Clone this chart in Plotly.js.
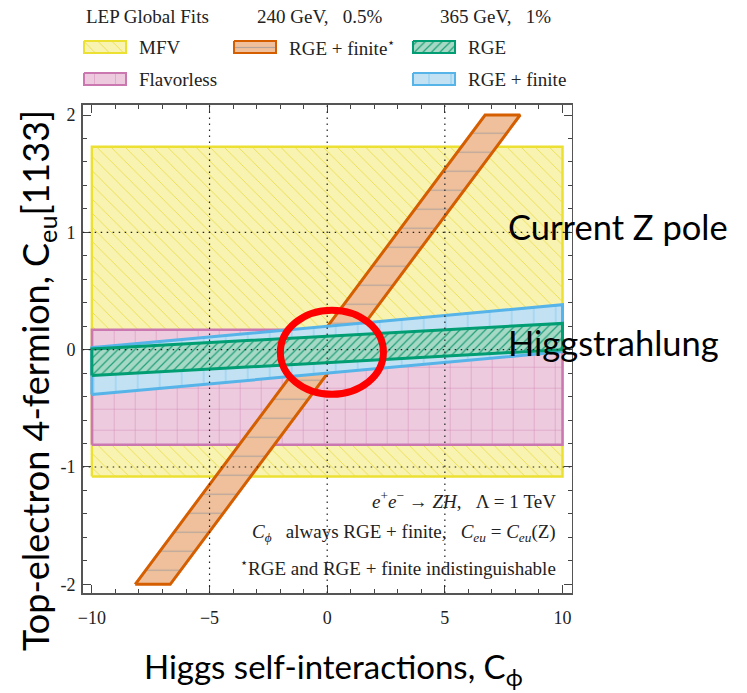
<!DOCTYPE html>
<html>
<head>
<meta charset="utf-8">
<script src="https://cdn.plot.ly/plotly-3.0.1.min.js"></script>
<style>
  html, body { margin: 0; padding: 0; background: #ffffff; }
  #chart { width: 747px; height: 693px; }
</style>
</head>
<body>
<div id="chart"></div>
<script>
// ---- Allowed regions in the (C_phi, C_eu[1133]) plane ----
// C_phi end points used for the straight 365 GeV bands and the LEP boxes
const cphiSpan = [-10, 10];

// LEP global fits (horizontal boxes): [lower, upper] in C_eu
const mfvBounds = [-1.08, 1.73];
const flavorlessBounds = [-0.81, 0.17];

// 240 GeV, 0.5%: RGE + finite band, left/right C_phi edges at C_eu = -2 and +2
const ceu240Edges = [-2, 2];
const cphi240Left = [-8.16, 6.71];
const cphi240Right = [-6.67, 8.20];

// 365 GeV, 1%: C_eu lower / upper limits at C_phi = -10 and +10
const rge365Lower = [-0.221, 0.0];
const rge365Upper = [0.006, 0.224];
const rgeFinite365Lower = [-0.383, -0.017];
const rgeFinite365Upper = [0.017, 0.383];

// Axis tick labels
const xTickVals = [-10, -5, 0, 5, 10];
const xTickText = ['\u221210', '\u22125', '0', '5', '10'];
const yTickVals = [-2, -1, 0, 1, 2];
const yTickText = ['-2', '-1', '0', '1', '2'];

// ---- Styles ----
const styles = {
  mfv:        { line: '#ece133', width: 2.5, pat: { shape: '\\', size: 10, solidity: 0.08, fgcolor: '#e9da45', bgcolor: '#f8f3b0' } },
  flavorless: { line: '#cc78b0', width: 2.5, pat: { shape: '+',  size: 21, solidity: 0.05, fgcolor: '#d590bb', bgcolor: '#edcadd' } },
  rgeFin240:  { line: '#d55e00', width: 3,   pat: { shape: '-',  size: 19, solidity: 0.06, fgcolor: '#b4a49c', bgcolor: '#efc09b' } },
  rgeFin365:  { line: '#56b4e9', width: 3,   pat: { shape: '|',  size: 22, solidity: 0.05, fgcolor: '#93cff0', bgcolor: '#c2e2f4' } },
  rge365:     { line: '#029e73', width: 3,   pat: { shape: '/',  size: 6,  solidity: 0.2,  fgcolor: '#1f9f78', bgcolor: '#a6d9c5' } }
};

function patternFill(s) {
  return Object.assign({ fillmode: 'replace' }, s.pat);
}

function boxPath(xs, ys) {
  return { x: [xs[0], xs[1], xs[1], xs[0], xs[0]], y: [ys[0], ys[0], ys[1], ys[1], ys[0]] };
}
function bandPath(xs, lo, hi) {
  return { x: [xs[0], xs[1], xs[1], xs[0], xs[0]], y: [lo[0], lo[1], hi[1], hi[0], lo[0]] };
}
function slantPath(ys, left, right) {
  return { x: [left[0], right[0], right[1], left[1], left[0]], y: [ys[0], ys[0], ys[1], ys[1], ys[0]] };
}

function region(path, s, name, xa, ya) {
  return {
    type: 'scatter', mode: 'lines', name: name,
    x: path.x, y: path.y, xaxis: xa || 'x', yaxis: ya || 'y',
    fill: 'toself', fillcolor: s.pat.bgcolor, fillpattern: patternFill(s),
    line: { color: s.line, width: s.width },
    hoverinfo: 'skip', showlegend: false
  };
}

const traces = [
  region(boxPath(cphiSpan, mfvBounds), styles.mfv, 'MFV'),
  region(boxPath(cphiSpan, flavorlessBounds), styles.flavorless, 'Flavorless'),
  region(slantPath(ceu240Edges, cphi240Left, cphi240Right), styles.rgeFin240, 'RGE + finite (240 GeV)'),
  region(bandPath(cphiSpan, rgeFinite365Lower, rgeFinite365Upper), styles.rgeFin365, 'RGE + finite (365 GeV)'),
  region(bandPath(cphiSpan, rge365Lower, rge365Upper), styles.rge365, 'RGE (365 GeV)')
];

// ---- Key above the plot (page-pixel overlay axes x2/y2) ----
const serif = 'Liberation Serif, Times New Roman, serif';
const sans = 'Lato, Open Sans, sans-serif';
const keyCols = [84, 234, 413];
const keyHeadRow = 16;
const keyRows = [47, 79];
const swW = 42, swH = 12, labelGap = 11;
const keyHeads = ['LEP Global Fits', '240 GeV,\u2002 0.5%', '365 GeV,\u2002 1%'];
const keyHeadX = [84, 255, 438];
const keyItems = [
  { col: 0, row: 0, s: styles.mfv, text: 'MFV' },
  { col: 0, row: 1, s: styles.flavorless, text: 'Flavorless' },
  { col: 1, row: 0, s: styles.rgeFin240, text: 'RGE + finite<sup>\u22c6</sup>' },
  { col: 2, row: 0, s: styles.rge365, text: 'RGE' },
  { col: 2, row: 1, s: styles.rgeFin365, text: 'RGE + finite' }
];

const annotations = [];
keyHeads.forEach((t, i) => {
  annotations.push({ xref: 'x2', yref: 'y2', x: keyHeadX[i], y: keyHeadRow, text: t,
    xanchor: 'left', yanchor: 'middle', showarrow: false,
    font: { family: serif, size: 19, color: '#222' } });
});
keyItems.forEach(it => {
  const x0 = keyCols[it.col], yc = keyRows[it.row];
  const sw = Object.assign({}, it.s, { width: 2 });
  traces.push(region(boxPath([x0, x0 + swW], [yc - swH / 2, yc + swH / 2]), sw, it.text, 'x2', 'y2'));
  annotations.push({ xref: 'x2', yref: 'y2', x: x0 + swW + labelGap, y: yc, text: it.text,
    xanchor: 'left', yanchor: 'middle', showarrow: false,
    font: { family: serif, size: 19, color: '#222' } });
});

// ---- Notes inside the plot ----
const notes = [
  '<i>e</i><sup>+</sup><i>e</i><sup>\u2212</sup> \u2192 <i>ZH</i>,\u2002 \u039b = 1 TeV',
  '<i>C<sub>\u03d5</sub></i>\u2002 always RGE + finite,\u2002 <i>C<sub>eu</sub></i> = <i>C<sub>eu</sub></i>(Z)',
  '<sup>\u22c6</sup>RGE and RGE + finite indistinguishable'
];
const noteY = [500, 533, 567];
notes.forEach((t, i) => {
  annotations.push({ xref: 'x2', yref: 'y2', x: 558, y: noteY[i], text: t,
    xanchor: 'right', yanchor: 'middle', showarrow: false,
    font: { family: serif, size: 19, color: '#222' } });
});

// Region labels and axis titles
annotations.push(
  { xref: 'x2', yref: 'y2', x: 506, y: 226, text: 'Current Z pole', xanchor: 'left', yanchor: 'middle',
    showarrow: false, font: { family: sans, size: 34.5, color: '#000' } },
  { xref: 'x2', yref: 'y2', x: 506, y: 342, text: 'Higgstrahlung', xanchor: 'left', yanchor: 'middle',
    showarrow: false, font: { family: sans, size: 34.5, color: '#000' } },
  { xref: 'x2', yref: 'y2', x: 333, y: 668, text: 'Higgs self-interactions, C<sub>\u03d5</sub>',
    xanchor: 'center', yanchor: 'middle', showarrow: false, font: { family: sans, size: 33, color: '#000' } },
  { xref: 'x2', yref: 'y2', x: 37, y: 381, text: 'Top-electron 4-fermion, C<sub>eu</sub>[1133]', textangle: -90,
    xanchor: 'center', yanchor: 'middle', showarrow: false, font: { family: sans, size: 36, color: '#000' } }
);

// ---- Dotted reference lines and highlight ellipse ----
const shapes = [];
const gridDash = '1.5px,4.5px';
[-5, 0, 5].forEach(v => shapes.push({ type: 'line', layer: 'above', xref: 'x', yref: 'y domain',
  x0: v, x1: v, y0: 0, y1: 1, line: { color: '#222', width: 1.2, dash: gridDash } }));
[-1, 0, 1].forEach(v => shapes.push({ type: 'line', layer: 'above', xref: 'x domain', yref: 'y',
  x0: 0, x1: 1, y0: v, y1: v, line: { color: '#222', width: 1.2, dash: gridDash } }));
shapes.push({ type: 'circle', layer: 'above', xref: 'x', yref: 'y',
  x0: -1.99, x1: 2.39, y0: -0.381, y1: 0.336, line: { color: '#ff0000', width: 7 } });

const W = 747, H = 693;
const plotL = 82.7, plotR = 571.7, plotT = 104.7, plotB = 593;

const axisCommon = {
  showgrid: false, zeroline: false, showline: true, linecolor: '#555', linewidth: 1.5,
  mirror: 'ticks', ticks: 'inside', ticklen: 8, tickwidth: 1, tickcolor: '#444',
  tickmode: 'array', fixedrange: true,
  tickfont: { family: serif, size: 18, color: '#222' }
};

const layout = {
  width: W, height: H,
  margin: { l: 0, r: 0, t: 0, b: 0 },
  paper_bgcolor: '#ffffff', plot_bgcolor: 'rgba(0,0,0,0)',
  showlegend: false,
  xaxis: Object.assign({}, axisCommon, {
    domain: [plotL / W, plotR / W], range: [-10.39, 10.39],
    tickvals: xTickVals, ticktext: xTickText, ticklabelstandoff: 8,
    minor: { ticks: 'inside', ticklen: 4, dtick: 1, tick0: 0, tickcolor: '#444', showgrid: false }
  }),
  yaxis: Object.assign({}, axisCommon, {
    domain: [1 - plotB / H, 1 - plotT / H], range: [-2.074, 2.088],
    tickvals: yTickVals, ticktext: yTickText, ticklabelstandoff: 2,
    minor: { ticks: 'inside', ticklen: 4, dtick: 0.2, tick0: 0, tickcolor: '#444', showgrid: false }
  }),
  xaxis2: { domain: [0, 1], range: [0, W], visible: false, fixedrange: true, anchor: 'y2' },
  yaxis2: { domain: [0, 1], range: [H, 0], visible: false, fixedrange: true, anchor: 'x2' },
  annotations: annotations,
  shapes: shapes
};

Plotly.newPlot('chart', traces, layout, { displayModeBar: false, staticPlot: true });
</script>
</body>
</html>
